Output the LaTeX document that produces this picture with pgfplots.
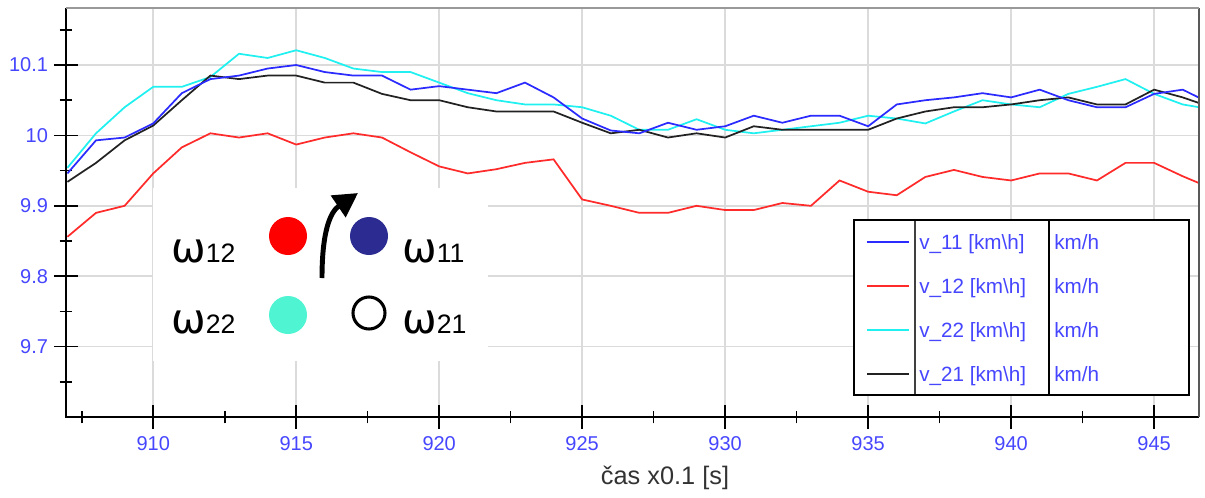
\documentclass[border=0pt]{standalone}
\usepackage{pgfplots}
\pgfplotsset{compat=1.18}
\usepackage{pgfplotstable}
\usepackage{fontspec}
\setmainfont{Liberation Sans}
\newfontfamily\dejavu{DejaVu Sans}
\usetikzlibrary{arrows.meta}
\definecolor{lblue}{HTML}{2B2BFF}
\definecolor{lred}{HTML}{FF2A2A}
\definecolor{lcyan}{HTML}{20F0F0}
\definecolor{lblack}{HTML}{222222}
\definecolor{tickblue}{HTML}{4646FF}
\definecolor{insetblue}{HTML}{2B2B91}
\definecolor{aqua}{HTML}{4FF5D2}

\pgfplotstableread{
x v11 v12 v22 v21
907 9.946 9.856 9.954 9.934
908 9.993 9.890 10.003 9.961
909 9.997 9.900 10.040 9.993
910 10.017 9.946 10.069 10.014
911 10.060 9.983 10.069 10.050
912 10.080 10.003 10.083 10.085
913 10.085 9.997 10.116 10.080
914 10.095 10.003 10.110 10.085
915 10.100 9.987 10.121 10.085
916 10.090 9.997 10.110 10.075
917 10.085 10.003 10.095 10.075
918 10.085 9.997 10.090 10.059
919 10.065 9.976 10.090 10.050
920 10.070 9.956 10.075 10.050
921 10.065 9.946 10.060 10.040
922 10.060 9.952 10.050 10.034
923 10.075 9.961 10.044 10.034
924 10.054 9.966 10.044 10.034
925 10.024 9.909 10.040 10.018
926 10.007 9.900 10.028 10.003
927 10.003 9.890 10.008 10.008
928 10.018 9.890 10.008 9.997
929 10.008 9.900 10.023 10.003
930 10.013 9.894 10.008 9.997
931 10.028 9.894 10.003 10.013
932 10.018 9.904 10.008 10.008
933 10.028 9.900 10.013 10.008
934 10.028 9.936 10.018 10.008
935 10.013 9.920 10.028 10.008
936 10.044 9.915 10.024 10.024
937 10.050 9.941 10.017 10.034
938 10.054 9.951 10.034 10.040
939 10.060 9.941 10.050 10.040
940 10.054 9.936 10.044 10.044
941 10.065 9.946 10.040 10.050
942 10.050 9.946 10.059 10.054
943 10.040 9.936 10.069 10.044
944 10.040 9.961 10.080 10.044
945 10.059 9.961 10.059 10.065
946 10.065 9.942 10.044 10.054
947 10.045 9.925 10.037 10.040
}\data

\begin{document}
\begin{tikzpicture}[x=0.75pt,y=0.75pt]
\path[use as bounding box] (-66,-80) rectangle (1139,417);
\begin{axis}[
  at={(0,0)}, anchor=south west,
  scale only axis, width=849.75pt, height=306.75pt,
  xmin=906.95, xmax=946.57, ymin=9.6, ymax=10.181,
  xtick={910,915,...,945},
  minor xtick={907.5,912.5,917.5,922.5,927.5,932.5,937.5,942.5},
  ytick={9.7,9.8,9.9,10,10.1}, yticklabels={9.7,9.8,9.9,10,10.1},
  minor ytick={9.65,9.75,9.85,9.95,10.05,10.15},
  tick pos=left, tick align=center,
  major tick length=18pt, minor tick length=9.5pt,
  tick style={black, line width=1.2pt},
  grid=major, major grid style={draw=black!14, line width=1.1pt},
  axis line style={draw=none},
  ticklabel style={font=\fontsize{15}{17}\selectfont, text=tickblue},
  yticklabel style={xshift=-1pt},
  xticklabel style={yshift=-2pt},
  /pgf/number format/assume math mode=true,
  /pgf/number format/1000 sep={},
  clip=true,
]
\addplot[lred, line width=1.3pt] table[x=x,y=v12] {\data};
\addplot[lcyan, line width=1.3pt] table[x=x,y=v22] {\data};
\addplot[lblack, line width=1.3pt] table[x=x,y=v21] {\data};
\addplot[lblue, line width=1.3pt] table[x=x,y=v11] {\data};
\end{axis}
% spines
\draw[black, line width=2pt] (0,409) -- (0,0) -- (1133,0);
\draw[black!65, line width=2pt] (1133,0) -- (1133,409);
\draw[black!40, line width=1.1pt] (0,409) -- (1133,409);
% inset
\fill[white] (87,56) rectangle (422,229);
\fill[red] (222,181) circle (19);
\fill[insetblue] (303,181) circle (19);
\fill[aqua] (222,102) circle (19);
\draw[black, line width=2.3pt] (303,104) circle (16);
\draw[black, line width=3.7pt, -{Triangle[length=18pt,width=19pt]}] (256,139) .. controls (256,185) and (264,205) .. (292,224);
\node[anchor=base west, inner sep=0] at (105,155) {\dejavu\fontsize{31}{31}\selectfont ω\rmfamily\fontsize{20}{20}\selectfont 12};
\node[anchor=base west, inner sep=0] at (336,155) {\dejavu\fontsize{31}{31}\selectfont ω\rmfamily\fontsize{20}{20}\selectfont 11};
\node[anchor=base west, inner sep=0] at (105,84) {\dejavu\fontsize{31}{31}\selectfont ω\rmfamily\fontsize{20}{20}\selectfont 22};
\node[anchor=base west, inner sep=0] at (336,84) {\dejavu\fontsize{31}{31}\selectfont ω\rmfamily\fontsize{20}{20}\selectfont 21};
% legend
\fill[white] (788,22) rectangle (1123,197);
\draw[black!75, line width=1.1pt] (849,22) -- (849,197);
\draw[black, line width=2.2pt] (983,22) -- (983,197);
\draw[black, line width=2.2pt] (788,22) rectangle (1123,197);
\foreach \yy/\cc/\nn in {175/lblue/11, 131/lred/12, 87/lcyan/22, 43/lblack/21}{
  \draw[\cc, line width=1.5pt] (801,\yy) -- (843,\yy);
  \node[anchor=base west, inner sep=0, text=tickblue, font=\fontsize{15.5}{18}\selectfont] at (853,\yy-7) {v\_\nn{} [km\textbackslash h]};
  \node[anchor=base west, inner sep=0, text=tickblue, font=\fontsize{15.5}{18}\selectfont] at (988,\yy-7) {km/h};
}
% x label
\node[font=\fontsize{19}{22}\selectfont, text=black!80] at (599,-61) {čas x0.1 [s]};
\end{tikzpicture}
\end{document}
